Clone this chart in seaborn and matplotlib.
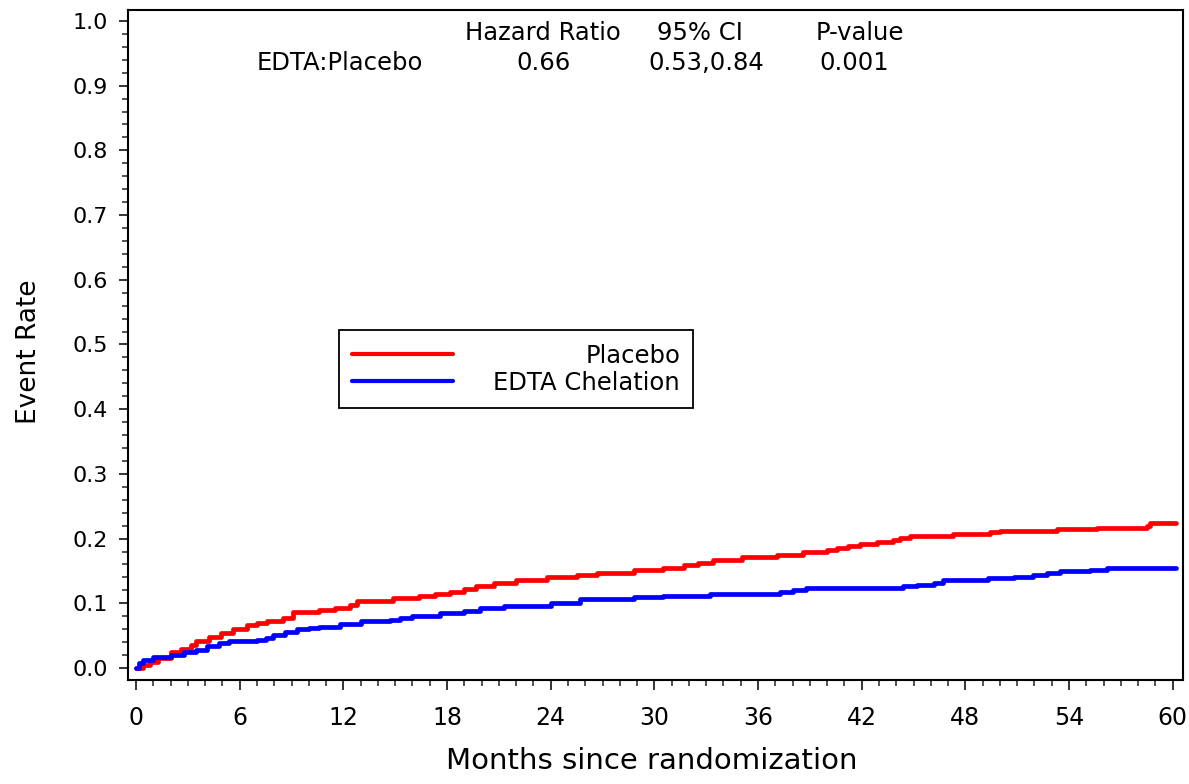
import numpy as np
import pandas as pd
import matplotlib.pyplot as plt
import seaborn as sns
from matplotlib.ticker import MultipleLocator, FormatStrFormatter

# curve data (step starts, cumulative event rate)
groups = ['Placebo', 'EDTA Chelation']
group_colors = ['red', 'blue']

placebo_months = [0, 0.4, 0.8, 1.3, 2.0, 2.6, 3.2, 3.5, 4.2, 4.9, 5.6, 6.4, 7.0, 7.6,
                  8.5, 9.1, 10.6, 11.5, 12.4, 12.8, 14.9, 16.4, 17.3, 18.2, 19.0, 19.7,
                  20.7, 22.0, 23.8, 25.5, 26.7, 28.8, 30.5, 31.7, 32.5, 33.4, 35.1, 37.1,
                  38.6, 40.0, 40.6, 41.2, 41.9, 42.9, 43.8, 44.2, 44.8, 47.3, 49.4, 50.0,
                  53.3, 55.6, 58.5, 58.7, 60.2]
placebo_rate = [0.000, 0.005, 0.010, 0.015, 0.024, 0.030, 0.036, 0.042, 0.048, 0.054,
                0.060, 0.066, 0.070, 0.073, 0.078, 0.086, 0.090, 0.093, 0.097, 0.104,
                0.108, 0.112, 0.115, 0.118, 0.122, 0.126, 0.131, 0.136, 0.140, 0.143,
                0.147, 0.151, 0.155, 0.159, 0.163, 0.167, 0.171, 0.175, 0.179, 0.183,
                0.186, 0.189, 0.192, 0.195, 0.198, 0.201, 0.204, 0.207, 0.210, 0.212,
                0.215, 0.217, 0.220, 0.224, 0.224]

edta_months = [0, 0.2, 0.4, 1.0, 2.0, 2.8, 3.5, 4.1, 4.8, 5.4, 7.0, 7.5, 7.9, 8.6, 9.3,
               10.0, 10.6, 11.8, 13.0, 14.7, 15.3, 16.0, 17.6, 19.0, 19.9, 21.3, 24.0,
               25.7, 28.8, 30.5, 33.2, 37.3, 38.0, 38.8, 44.4, 45.2, 46.2, 46.7, 49.3,
               50.8, 51.9, 52.7, 53.5, 55.2, 56.2, 60.2]
edta_rate = [0.000, 0.007, 0.012, 0.017, 0.020, 0.024, 0.028, 0.034, 0.038, 0.041,
             0.043, 0.047, 0.051, 0.055, 0.060, 0.062, 0.064, 0.068, 0.072, 0.074,
             0.077, 0.081, 0.085, 0.088, 0.092, 0.096, 0.100, 0.106, 0.109, 0.111,
             0.114, 0.118, 0.120, 0.123, 0.126, 0.129, 0.132, 0.136, 0.139, 0.141,
             0.144, 0.147, 0.150, 0.152, 0.155, 0.155]

hr_header = ['Hazard Ratio', '95% CI', 'P-value']
hr_row = ['EDTA:Placebo', '0.66', '0.53,0.84', '0.001']

df = pd.concat([
    pd.DataFrame({'month': placebo_months, 'rate': placebo_rate, 'group': groups[0]}),
    pd.DataFrame({'month': edta_months, 'rate': edta_rate, 'group': groups[1]}),
], ignore_index=True)

sns.set_style('ticks')
plt.rcParams['font.family'] = ['DejaVu Sans']
plt.rcParams['axes.edgecolor'] = 'black'
plt.rcParams['axes.linewidth'] = 1.5
plt.rcParams['text.color'] = 'black'
plt.rcParams['axes.labelcolor'] = 'black'

fig = plt.figure(figsize=(11.89, 7.84), dpi=100)
ax = fig.add_axes([0.1077, 0.1327, 0.8873, 0.8546])

sns.lineplot(data=df, x='month', y='rate', hue='group', hue_order=groups,
             palette=dict(zip(groups, group_colors)), drawstyle='steps-post',
             estimator=None, errorbar=None, linewidth=3.4, legend=False, ax=ax)

ax.set_xlim(-0.46, 60.6)
ax.set_ylim(-0.0185, 1.017)
ax.xaxis.set_major_locator(MultipleLocator(6))
ax.xaxis.set_minor_locator(MultipleLocator(1))
ax.yaxis.set_major_locator(MultipleLocator(0.1))
ax.yaxis.set_minor_locator(MultipleLocator(0.02))
ax.yaxis.set_major_formatter(FormatStrFormatter('%.1f'))

ax.tick_params(axis='x', which='major', length=7, width=1.1, pad=12, labelsize=17, colors='black')
ax.tick_params(axis='x', which='minor', length=4.5, width=1.1)
ax.tick_params(axis='y', which='major', length=6.5, width=1.1, pad=8, labelsize=16, colors='black')
ax.tick_params(axis='y', which='minor', length=4, width=1.1)
for s in ax.spines.values():
    s.set_visible(True)
    s.set_color('black')

ax.set_xlabel('Months since randomization', fontsize=21)
ax.set_ylabel('Event Rate', fontsize=19)
ax.xaxis.set_label_coords(0.496, -0.1)
ax.yaxis.set_label_coords(-0.082, 0.49)

# hazard ratio table at the top
for x, s in zip([0.3934, 0.5422, 0.6938], hr_header):
    ax.text(x, 0.9657, s, transform=ax.transAxes, ha='center', va='center', fontsize=17.5)
for x, s in zip([0.2009, 0.3934, 0.5479, 0.6882], hr_row):
    ax.text(x, 0.9209, s, transform=ax.transAxes, ha='center', va='center', fontsize=17.5)

leg = ax.legend(handles=ax.get_lines()[:2], labels=groups, loc='upper left',
                bbox_to_anchor=(0.2, 0.522), borderaxespad=0, fontsize=17.5,
                handlelength=4.15, handletextpad=1.65, borderpad=0.55,
                labelspacing=0.12, fancybox=False, framealpha=1, edgecolor='black')
leg.get_frame().set_linewidth(1.3)
for ln in leg.get_lines():
    ln.set_linewidth(3)

# right-align legend labels
fig.canvas.draw()
renderer = fig.canvas.get_renderer()
widths = [t.get_window_extent(renderer).width for t in leg.get_texts()]
for t, w in zip(leg.get_texts(), widths):
    t.set_position((max(widths) - w, 0))

fig.savefig('out.png', dpi=100)
